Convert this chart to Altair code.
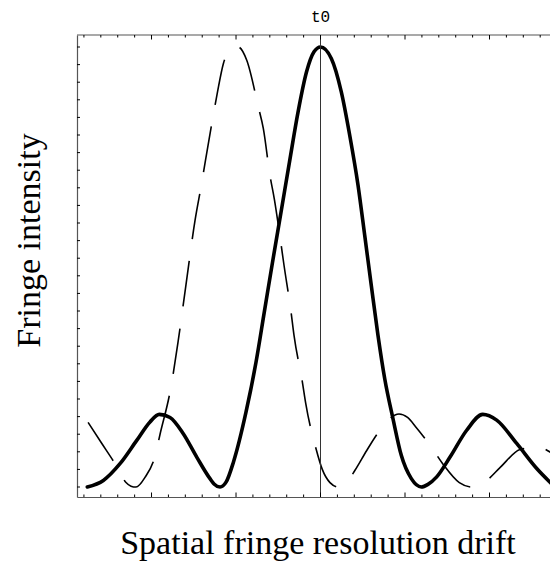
import altair as alt
import pandas as pd

# ---- data (x in units of major tick spacing, t0 = 0; y normalised intensity) ----
solid_x = [-2.760, -2.570, -2.373, -2.175, -2.018, -1.908, -1.781, -1.624, -1.465, -1.308,
           -1.260, -1.189, -1.118, -1.030, -0.882, -0.763, -0.665, -0.568, -0.467, -0.367,
           -0.266, -0.166, -0.077, 0.000, 0.128, 0.246, 0.346, 0.444, 0.523, 0.601,
           0.680, 0.760, 0.858, 0.956, 1.075, 1.193, 1.272, 1.375, 1.533, 1.730,
           1.920, 2.085, 2.322, 2.559, 2.775]
solid_y = [0.000, 0.015, 0.053, 0.106, 0.148, 0.165, 0.158, 0.121, 0.068, 0.019,
           0.007, 0.000, 0.011, 0.057, 0.170, 0.284, 0.398, 0.511, 0.625, 0.739,
           0.852, 0.943, 0.989, 1.000, 0.974, 0.898, 0.799, 0.686, 0.572, 0.458,
           0.345, 0.246, 0.155, 0.072, 0.019, 0.000, 0.006, 0.023, 0.068, 0.129,
           0.165, 0.152, 0.099, 0.042, 0.000]

dashed_x = [-2.751, -2.592, -2.432, -2.305, -2.243, -2.183, -2.077, -1.959, -1.899, -1.773,
            -1.686, -1.592, -1.485, -1.406, -1.361, -1.269, -1.219, -1.150, -1.051, -0.976,
            -0.873, -0.736, -0.677, -0.598, -0.547, -0.471, -0.432, -0.349, -0.314, -0.215,
            -0.175, -0.053, 0.021, 0.112, 0.211, 0.314, 0.408, 0.547, 0.704, 0.929,
            1.030, 1.130, 1.296, 1.446, 1.643, 1.789, 1.967, 2.124, 2.361, 2.559, 2.775]
dashed_y = [0.147, 0.100, 0.053, 0.011, 0.002, 0.000, 0.022, 0.070, 0.120, 0.224,
            0.330, 0.460, 0.606, 0.691, 0.743, 0.845, 0.898, 0.962, 0.996, 1.000,
            0.970, 0.864, 0.815, 0.708, 0.655, 0.557, 0.504, 0.398, 0.345, 0.239,
            0.190, 0.087, 0.040, 0.010, 0.000, 0.012, 0.038, 0.083, 0.129, 0.166,
            0.158, 0.136, 0.095, 0.053, 0.010, 0.000, 0.015, 0.044, 0.085, 0.091, 0.072]

marker_x = [0.0]
marker_label = ["t0"]

x_minor_ticks = [-2.8, -2.6, -2.4, -2.2, -1.8, -1.6, -1.4, -1.2, -0.8, -0.6, -0.4, -0.2,
                 0.2, 0.4, 0.6, 0.8, 1.2, 1.4, 1.6, 1.8, 2.2, 2.4, 2.6]
x_major_ticks = [-2.0, -1.0, 0.0, 1.0, 2.0]
y_ticks = [0.00, 0.04, 0.08, 0.12, 0.16, 0.20, 0.24, 0.28, 0.32, 0.36, 0.40, 0.44, 0.48,
           0.52, 0.56, 0.60, 0.64, 0.68, 0.72, 0.76, 0.80, 0.84, 0.88, 0.92, 0.96, 1.00]

X_DOMAIN = [-2.882, 2.716]
Y_DOMAIN = [-0.0227, 1.0273]
W, H = 473, 462
FRAME = "#555555"

xs = alt.Scale(domain=X_DOMAIN, nice=False, zero=False)
ys = alt.Scale(domain=Y_DOMAIN, nice=False, zero=False)

solid_df = pd.DataFrame({"x": solid_x, "y": solid_y})
dashed_df = pd.DataFrame({"x": dashed_x, "y": dashed_y})
marker_df = pd.DataFrame({"x": marker_x, "label": marker_label})
xminor_df = pd.DataFrame({"x": x_minor_ticks})
xmajor_df = pd.DataFrame({"x": x_major_ticks})
yt_df = pd.DataFrame({"y": y_ticks})
one_df = pd.DataFrame({"a": [0]})

x_axis = alt.Axis(
    title="Spatial fringe resolution drift", labels=False, ticks=False, grid=False,
    domain=True, domainColor=FRAME, domainWidth=1.2,
    titleFont="Liberation Serif", titleFontSize=34, titleFontWeight="normal",
    titleColor="black", titleX=240.5, titleY=56, titleAlign="center",
    titleBaseline="alphabetic",
)
y_axis = alt.Axis(
    title="Fringe intensity", labels=False, ticks=False, grid=False,
    domain=True, domainColor=FRAME, domainWidth=1.2,
    titleFont="Liberation Serif", titleFontSize=34, titleFontWeight="normal",
    titleColor="black", titleAngle=270, titleX=-38, titleY=205,
    titleAlign="center", titleBaseline="alphabetic",
)

solid = alt.Chart(solid_df).mark_line(
    color="black", strokeWidth=3.6, interpolate="monotone", strokeJoin="round",
    strokeCap="round", clip=True
).encode(
    x=alt.X("x:Q", scale=xs, axis=x_axis),
    y=alt.Y("y:Q", scale=ys, axis=y_axis),
)

dashed = alt.Chart(dashed_df).mark_line(
    color="black", strokeWidth=1.6, interpolate="monotone", strokeDash=[46, 22], clip=True
).encode(x=alt.X("x:Q", scale=xs), y=alt.Y("y:Q", scale=ys))

vline = alt.Chart(marker_df).mark_rule(color="#333333", strokeWidth=1).encode(
    x=alt.X("x:Q", scale=xs)
)

label = alt.Chart(marker_df).mark_text(
    font="Liberation Mono", fontSize=16, color="black", baseline="alphabetic", align="center"
).encode(x=alt.X("x:Q", scale=xs), y=alt.value(-13), text="label:N")

top_border = alt.Chart(one_df).mark_rule(color=FRAME, strokeWidth=1.2).encode(
    x=alt.value(0), x2=alt.value(W), y=alt.value(0)
)

top_minor = alt.Chart(xminor_df).mark_rule(color="black", strokeWidth=1).encode(
    x=alt.X("x:Q", scale=xs), y=alt.value(0), y2=alt.value(2.5))
top_major = alt.Chart(xmajor_df).mark_rule(color="black", strokeWidth=1).encode(
    x=alt.X("x:Q", scale=xs), y=alt.value(0), y2=alt.value(4.5))
bot_minor = alt.Chart(xminor_df).mark_rule(color="black", strokeWidth=1).encode(
    x=alt.X("x:Q", scale=xs), y=alt.value(H), y2=alt.value(H - 2.5))
bot_major = alt.Chart(xmajor_df).mark_rule(color="black", strokeWidth=1).encode(
    x=alt.X("x:Q", scale=xs), y=alt.value(H), y2=alt.value(H - 4.5))
left_ticks = alt.Chart(yt_df).mark_rule(color="black", strokeWidth=1).encode(
    y=alt.Y("y:Q", scale=ys), x=alt.value(0), x2=alt.value(3))

chart = alt.layer(
    solid, dashed, vline, label, top_border,
    top_minor, top_major, bot_minor, bot_major, left_ticks,
).properties(
    width=W, height=H,
    padding={"left": 69, "top": 27, "right": 0, "bottom": 64},
    autosize=alt.AutoSizeParams(type="none"),
).configure_view(stroke=None)

chart.save("out.html", embed_options={"renderer": "svg", "actions": False})
